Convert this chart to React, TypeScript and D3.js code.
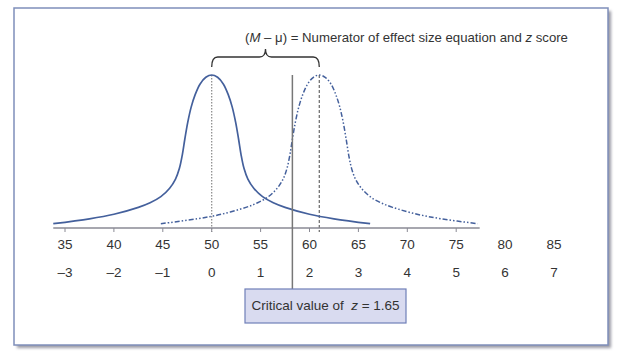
import React from "react";
import * as d3 from "d3";

// raw scores and matching z scores along the bottom
const scoreLabels = [35, 40, 45, 50, 55, 60, 65, 70, 75, 80, 85];
const zLabels = ["–3", "–2", "–1", "0", "1", "2", "3", "4", "5", "6", "7"];
const tickValues = [35, 40, 45, 50, 55, 60, 65, 70, 75];

// null distribution (mu = 50): [score, relative height]
const nullCurve: [number, number][] = [
  [33.8, 0.028], [37.5, 0.06], [40, 0.09], [42.5, 0.135], [43.7, 0.165],
  [44.8, 0.205], [45.7, 0.26], [46.3, 0.32], [46.7, 0.39], [47, 0.48],
  [47.25, 0.58], [47.55, 0.69], [47.9, 0.79], [48.3, 0.87], [48.8, 0.94],
  [49.4, 0.985], [50, 1], [50.6, 0.985], [51.2, 0.94], [51.7, 0.87],
  [52.1, 0.79], [52.45, 0.69], [52.75, 0.58], [53, 0.48], [53.3, 0.39],
  [53.7, 0.32], [54.3, 0.26], [55.2, 0.205], [56.3, 0.165], [57.5, 0.135],
  [60, 0.09], [62.5, 0.06], [66.2, 0.028],
];

// sample distribution (M = 61)
const sampleCurve: [number, number][] = [
  [44.8, 0.028], [48.5, 0.06], [51, 0.09], [53.5, 0.135], [54.7, 0.165],
  [55.8, 0.205], [56.7, 0.26], [57.3, 0.32], [57.7, 0.39], [58, 0.48],
  [58.25, 0.58], [58.55, 0.69], [58.9, 0.79], [59.3, 0.87], [59.8, 0.94],
  [60.4, 0.985], [61, 1], [61.6, 0.985], [62.2, 0.94], [62.7, 0.87],
  [63.1, 0.79], [63.45, 0.69], [63.75, 0.58], [64, 0.48], [64.3, 0.39],
  [64.7, 0.32], [65.3, 0.26], [66.2, 0.205], [67.3, 0.165], [68.5, 0.135],
  [71, 0.09], [73.5, 0.06], [77.2, 0.028],
];

const mu = 50;
const sampleMean = 61;
const criticalZ = 1.65;
const axisExtent = [33.8, 77.4];

const W = 624;
const H = 354;
const font = "'Liberation Sans', Arial, sans-serif";
const ink = "#333";
const curveColor = "#44609c";

export default function App() {
  const x = d3.scaleLinear().domain([35, 85]).range([65, 554]);
  const y = d3.scaleLinear().domain([0, 1]).range([228, 75]);

  const line = d3
    .line<[number, number]>()
    .x((d) => x(d[0]))
    .y((d) => y(d[1]))
    .curve(d3.curveCatmullRom.alpha(0.5));

  const critX = x(mu + criticalZ * 5);
  const xa = x(mu);
  const xb = x(sampleMean);
  const xm = (xa + xb) / 2;

  // curly brace between the two means
  const braceTop = 57;
  const braceEnd = 67;
  const brace = `M${xa},${braceEnd} Q${xa},${braceTop} ${xa + 6},${braceTop}
    L${xm - 6},${braceTop} Q${xm},${braceTop} ${xm},${braceTop - 8}
    Q${xm},${braceTop} ${xm + 6},${braceTop} L${xb - 6},${braceTop}
    Q${xb},${braceTop} ${xb},${braceEnd}`;

  return (
    <svg
      width={W}
      height={H}
      style={{ position: "absolute", left: 0, top: 0 }}
      fontFamily={font}
    >
      <defs>
        <filter id="shadow" x="-5%" y="-5%" width="110%" height="110%">
          <feGaussianBlur stdDeviation="1.5" />
        </filter>
      </defs>
      <rect width={W} height={H} fill="#fff" />
      {/* frame + shadow */}
      <rect x={17} y={11} width={594} height={337} fill="#9a9aa4" filter="url(#shadow)" />
      <rect x={14} y={8} width={594} height={337} fill="#fff" stroke="#7f8fba" strokeWidth={1.5} />

      {/* top annotation */}
      <text x={245} y={42} fontSize={13.2} fill={ink}>
        (<tspan fontStyle="italic">M</tspan> – μ) = Numerator of effect size equation and{" "}
        <tspan fontStyle="italic">z</tspan> score
      </text>
      <path d={brace} fill="none" stroke={ink} strokeWidth={1.3} />

      {/* mean guides */}
      <line x1={xa} x2={xa} y1={y(1)} y2={232} stroke="#888" strokeWidth={1.2} strokeDasharray="1.5,1.5" />
      <line x1={xb} x2={xb} y1={y(1)} y2={232} stroke="#666" strokeWidth={1.2} strokeDasharray="3,2" />

      {/* axis */}
      <line x1={x(axisExtent[0])} x2={x(axisExtent[1])} y1={228} y2={228} stroke="#8a8a94" strokeWidth={1.3} />
      {tickValues.map((t) => (
        <line key={t} x1={x(t)} x2={x(t)} y1={228} y2={232} stroke="#8a8a94" strokeWidth={1} />
      ))}

      {/* curves */}
      <path d={line(nullCurve) ?? ""} fill="none" stroke={curveColor} strokeWidth={1.7} />
      <path
        d={line(sampleCurve) ?? ""}
        fill="none"
        stroke={curveColor}
        strokeWidth={1.5}
        strokeDasharray="5,2,1.5,2,1.5,2"
      />

      {/* critical value line */}
      <line x1={critX} x2={critX} y1={y(1)} y2={289} stroke="#777" strokeWidth={1.5} />

      {/* labels */}
      {scoreLabels.map((s) => (
        <text key={s} x={x(s)} y={249} fontSize={13.5} fill={ink} textAnchor="middle">
          {s}
        </text>
      ))}
      {scoreLabels.map((s, i) => (
        <text key={"z" + s} x={x(s)} y={277} fontSize={13.5} fill={ink} textAnchor="middle">
          {zLabels[i]}
        </text>
      ))}

      {/* critical value box */}
      <rect x={245} y={289} width={161} height={34} fill="#d9dbf0" stroke="#6f7fb8" strokeWidth={1.2} />
      <text x={325.5} y={310} fontSize={13.5} fill={ink} textAnchor="middle">
        {"Critical value of\u00a0 "}<tspan fontStyle="italic">z</tspan> = {criticalZ}
      </text>
    </svg>
  );
}
